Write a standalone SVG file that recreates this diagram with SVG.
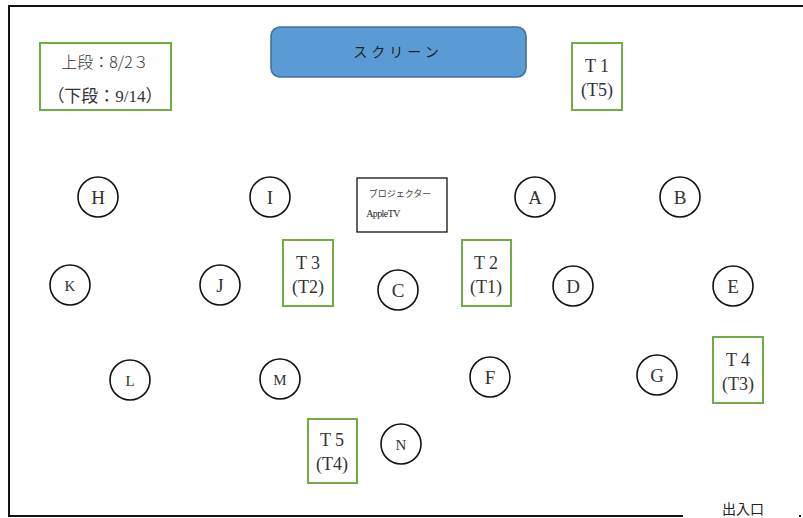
<svg xmlns="http://www.w3.org/2000/svg" width="803" height="518" viewBox="0 0 803 518">
<style>
text{font-family:"Liberation Serif","Noto Sans CJK JP",serif;fill:#333;text-anchor:middle}
.seat circle{fill:#fff;stroke:#111;stroke-width:1.6}
.seat text{font-size:19px}
.tbl rect{fill:#fff;stroke:#70ad47;stroke-width:2}
.tbl text{font-size:18px}
.jp{font-family:"Noto Sans CJK JP","Liberation Serif",sans-serif}
</style>
<rect width="803" height="518" fill="#fff"/>
<g id="frame" fill="none" stroke="#111" stroke-width="2">
<path d="M803 6 H9 V516 H683"/>
<path d="M799 516 H801"/>
</g>
<g id="date" class="tbl">
<rect x="40" y="43" width="131" height="67"/>
<text x="105" y="68" class="jp" style="font-size:16px;font-weight:300">上段：8/2３</text>
<text x="105" y="102" style="font-size:17px">（下段：9/14）</text>
</g>
<g id="screen">
<rect x="271" y="27" width="255" height="50" rx="9" fill="#5b9bd5" stroke="#41719c" stroke-width="1.6"/>
<text x="398" y="57" class="jp" style="font-size:14px;letter-spacing:4px;fill:#222">スクリーン</text>
</g>
<g id="projector">
<rect x="357" y="178" width="90" height="54" fill="#fff" stroke="#111" stroke-width="1.3"/>
<text x="400" y="197" class="jp" style="font-size:9px;fill:#444">プロジェクター</text>
<text x="383" y="217" style="font-size:10px;letter-spacing:-0.6px;fill:#222">AppleTV</text>
</g>
<g id="T1" class="tbl"><rect x="572" y="43" width="50" height="67"/><text x="597" y="72">T 1</text><text x="597" y="96">(T5)</text></g>
<g id="T3" class="tbl"><rect x="283" y="240" width="50" height="66"/><text x="308" y="269">T 3</text><text x="308" y="293">(T2)</text></g>
<g id="T2" class="tbl"><rect x="462" y="240" width="49" height="66"/><text x="486" y="269">T 2</text><text x="486" y="293">(T1)</text></g>
<g id="T4" class="tbl"><rect x="713" y="337" width="50" height="66"/><text x="738" y="366">T 4</text><text x="738" y="390">(T3)</text></g>
<g id="T5" class="tbl"><rect x="308" y="419" width="49" height="64"/><text x="332" y="446">T 5</text><text x="332" y="470">(T4)</text></g>
<g id="H" class="seat"><circle cx="98" cy="197" r="20"/><text x="98" y="204">H</text></g>
<g id="I" class="seat"><circle cx="270" cy="197" r="20"/><text x="270" y="204">I</text></g>
<g id="A" class="seat"><circle cx="535" cy="197" r="20"/><text x="535" y="204">A</text></g>
<g id="B" class="seat"><circle cx="680" cy="197" r="20"/><text x="680" y="204">B</text></g>
<g id="K" class="seat"><circle cx="70" cy="285" r="20"/><text x="70" y="291" style="font-size:15px">K</text></g>
<g id="J" class="seat"><circle cx="220" cy="285" r="20"/><text x="220" y="292">J</text></g>
<g id="C" class="seat"><circle cx="398" cy="290" r="20"/><text x="398" y="297">C</text></g>
<g id="D" class="seat"><circle cx="573" cy="286" r="20"/><text x="573" y="293">D</text></g>
<g id="E" class="seat"><circle cx="733" cy="286" r="20"/><text x="733" y="293">E</text></g>
<g id="L" class="seat"><circle cx="130" cy="380" r="20"/><text x="130" y="386" style="font-size:15px">L</text></g>
<g id="M" class="seat"><circle cx="280" cy="379" r="20"/><text x="280" y="385" style="font-size:15px">M</text></g>
<g id="F" class="seat"><circle cx="490" cy="377" r="20"/><text x="490" y="384">F</text></g>
<g id="G" class="seat"><circle cx="657" cy="375" r="20"/><text x="657" y="382">G</text></g>
<g id="N" class="seat"><circle cx="401" cy="444" r="20"/><text x="401" y="450" style="font-size:15px">N</text></g>
<g id="connectors"></g>
<g id="exit"><text x="743" y="514" class="jp" style="font-size:14px;fill:#222">出入口</text></g>
</svg>
